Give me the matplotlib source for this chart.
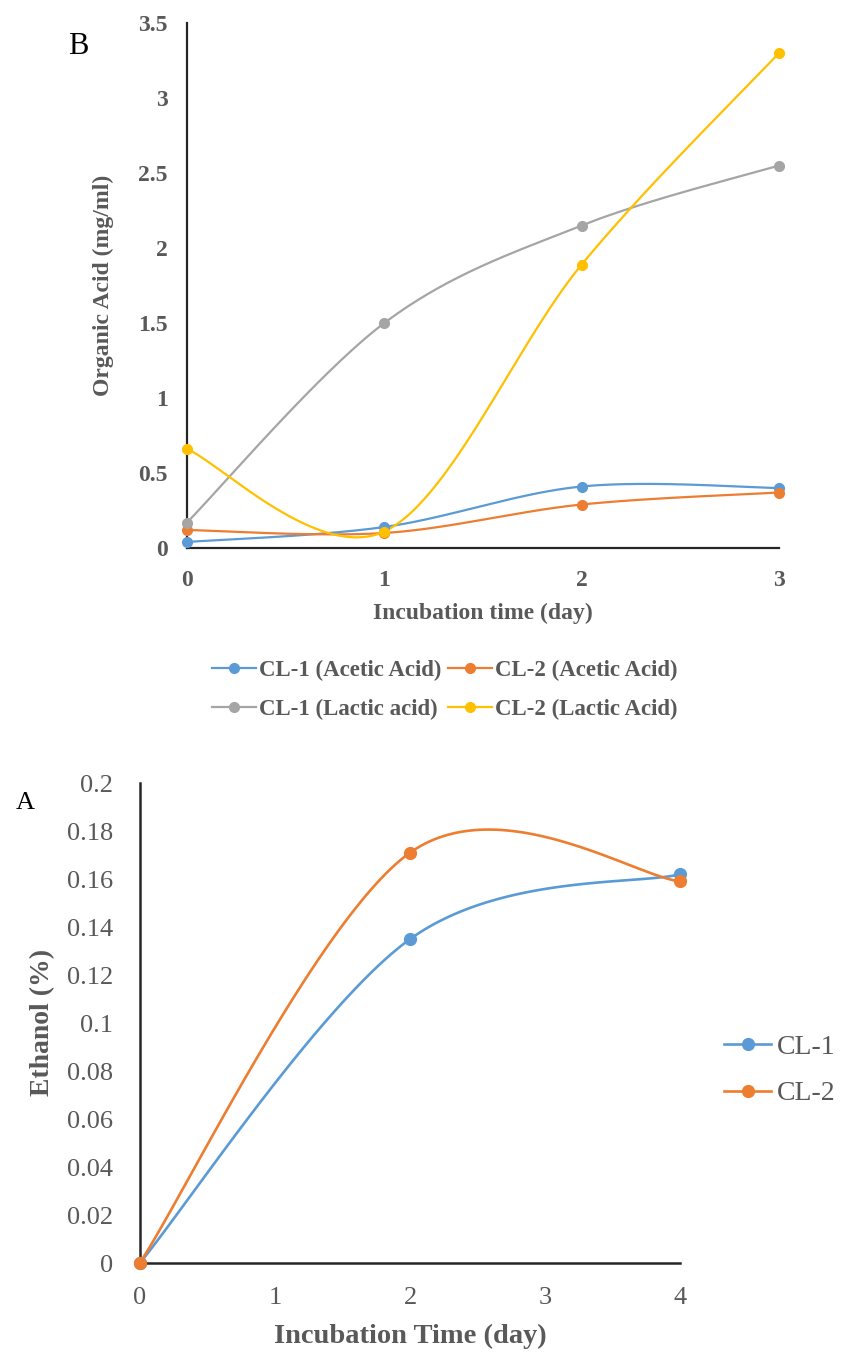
import numpy as np
import matplotlib
matplotlib.use("Agg")
import matplotlib.pyplot as plt

plt.rcParams['font.family'] = ['Liberation Serif', 'DejaVu Serif']

# ---- Data: panel B (organic acids) ----
days_b = [0, 1, 2, 3]
cl1_acetic = [0.04, 0.14, 0.41, 0.40]
cl2_acetic = [0.12, 0.10, 0.29, 0.37]
cl1_lactic = [0.17, 1.50, 2.15, 2.55]
cl2_lactic = [0.66, 0.11, 1.89, 3.30]
labels_b = ["CL-1 (Acetic Acid)", "CL-2 (Acetic Acid)",
            "CL-1 (Lactic acid)", "CL-2 (Lactic Acid)"]
yticks_b = [0, 0.5, 1, 1.5, 2, 2.5, 3, 3.5]
yticklabels_b = ["0", "0.5", "1", "1.5", "2", "2.5", "3", "3.5"]

# ---- Data: panel A (ethanol) ----
days_a = [0, 2, 4]
cl1_ethanol = [0.0, 0.135, 0.162]
cl2_ethanol = [0.0, 0.171, 0.159]
labels_a = ["CL-1", "CL-2"]
yticks_a = [0, 0.02, 0.04, 0.06, 0.08, 0.1, 0.12, 0.14, 0.16, 0.18, 0.2]
yticklabels_a = ["0", "0.02", "0.04", "0.06", "0.08", "0.1", "0.12",
                 "0.14", "0.16", "0.18", "0.2"]

BLUE, ORANGE, GRAY, YELLOW = "#5B9BD5", "#ED7D31", "#A5A5A5", "#FFC000"
TXT = "#595959"
SPINE = "#262626"


def smooth(x, y, n=60):
    """Excel-style smoothed line (Catmull-Rom cubic Bezier) through the points."""
    P = np.column_stack([x, y]).astype(float)
    out = []
    m = len(P)
    t = np.linspace(0, 1, n)[:, None]
    for i in range(m - 1):
        p0 = P[i]
        p3 = P[i + 1]
        pm = P[i - 1] if i > 0 else P[i]
        pp = P[i + 2] if i + 2 < m else P[i + 1]
        c1 = p0 + (p3 - pm) / 6.0
        c2 = p3 - (pp - p0) / 6.0
        seg = ((1 - t) ** 3) * p0 + 3 * ((1 - t) ** 2) * t * c1 + 3 * (1 - t) * t ** 2 * c2 + t ** 3 * p3
        out.append(seg if i == 0 else seg[1:])
    s = np.vstack(out)
    return s[:, 0], s[:, 1]


W, H = 842, 1356
fig = plt.figure(figsize=(W / 100, H / 100), dpi=100)

# ---------------- Panel B ----------------
axb = fig.add_axes([187 / W, 1 - 548 / H, (779 - 187) / W, (548 - 23) / H])
series_b = [(cl1_acetic, BLUE), (cl2_acetic, ORANGE), (cl1_lactic, GRAY), (cl2_lactic, YELLOW)]
handles_b = []
for (vals, col), lab in zip(series_b, labels_b):
    sx, sy = smooth(days_b, vals)
    axb.plot(sx, sy, color=col, lw=1.6, clip_on=False, zorder=3)
    axb.plot(days_b, vals, 'o', color=col, ms=7, clip_on=False, zorder=4)
    h, = axb.plot([], [], '-o', color=col, lw=1.6, ms=7, label=lab)
    handles_b.append(h)
axb.set_xlim(0, 3)
axb.set_ylim(0, 3.5)
axb.set_xticks(days_b)
axb.set_xticklabels([str(d) for d in days_b])
axb.set_yticks(yticks_b)
axb.set_yticklabels(yticklabels_b)
for s in ['top', 'right']:
    axb.spines[s].set_visible(False)
for s in ['left', 'bottom']:
    axb.spines[s].set_color(SPINE)
    axb.spines[s].set_linewidth(1.6)
axb.tick_params(axis='both', length=0, labelsize=17, labelcolor=TXT)
axb.tick_params(axis='y', pad=14)
axb.tick_params(axis='x', pad=16)
for lbl in axb.get_xticklabels() + axb.get_yticklabels():
    lbl.set_fontweight('bold')
axb.set_ylabel("Organic Acid (mg/ml)", fontsize=17, fontweight='bold', color=TXT, va='center')
axb.yaxis.set_label_coords(-0.142, 0.5)
axb.set_xlabel("Incubation time (day)", fontsize=17, fontweight='bold', color=TXT, va='center')
axb.xaxis.set_label_coords(0.5, -0.124)
# legend filled row-wise like the reference (matplotlib fills column-wise)
order = [0, 2, 1, 3]
legb = fig.legend(handles=[handles_b[i] for i in order], loc='center', ncol=2,
                  bbox_to_anchor=(445 / W, 1 - 690 / H), frameon=False,
                  prop={'size': 16.5, 'weight': 'bold'}, handlelength=1.9,
                  handletextpad=0.15, columnspacing=0.3, labelspacing=0.75,
                  borderpad=0)
for t in legb.get_texts():
    t.set_color(TXT)
fig.text(78 / W, 1 - 47 / H, "B", fontsize=22, ha='center', va='center', color='black')

# ---------------- Panel A ----------------
axa = fig.add_axes([139.6 / W, 1 - 1263.3 / H, (680.5 - 139.6) / W, (1263.3 - 783) / H])
series_a = [(cl1_ethanol, BLUE), (cl2_ethanol, ORANGE)]
handles_a = []
for (vals, col), lab in zip(series_a, labels_a):
    sx, sy = smooth(days_a, vals)
    axa.plot(sx, sy, color=col, lw=1.9, clip_on=False, zorder=3)
    axa.plot(days_a, vals, 'o', color=col, ms=8.5, clip_on=False, zorder=4)
    h, = axa.plot([], [], '-o', color=col, lw=1.9, ms=8.5, label=lab)
    handles_a.append(h)
axa.set_xlim(0, 4)
axa.set_ylim(0, 0.2)
axa.set_xticks([0, 1, 2, 3, 4])
axa.set_xticklabels(["0", "1", "2", "3", "4"])
axa.set_yticks(yticks_a)
axa.set_yticklabels(yticklabels_a)
for s in ['top', 'right']:
    axa.spines[s].set_visible(False)
for s in ['left', 'bottom']:
    axa.spines[s].set_color(SPINE)
    axa.spines[s].set_linewidth(1.8)
axa.tick_params(axis='both', length=0, labelsize=19, labelcolor=TXT)
axa.tick_params(axis='y', pad=19)
axa.tick_params(axis='x', pad=17)
axa.set_ylabel("Ethanol (%)", fontsize=20, fontweight='bold', color=TXT, va='center')
axa.yaxis.set_label_coords((43 - 139.6) / (680.5 - 139.6), (1263.3 - 1022) / (1263.3 - 783))
axa.set_xlabel("Incubation Time (day)", fontsize=20.5, fontweight='bold', color=TXT, va='center')
axa.xaxis.set_label_coords(0.5, -0.153)
lega = fig.legend(handles=handles_a, loc='center left',
                  bbox_to_anchor=(724 / W, 1 - 1070.5 / H), frameon=False,
                  prop={'size': 20}, handlelength=1.7, handletextpad=0.2,
                  labelspacing=0.75, borderpad=0, borderaxespad=0)
for t in lega.get_texts():
    t.set_color(TXT)
fig.text(25 / W, 1 - 803 / H, "A", fontsize=19, ha='center', va='center', color='black')

fig.savefig("out.png", dpi=100)
